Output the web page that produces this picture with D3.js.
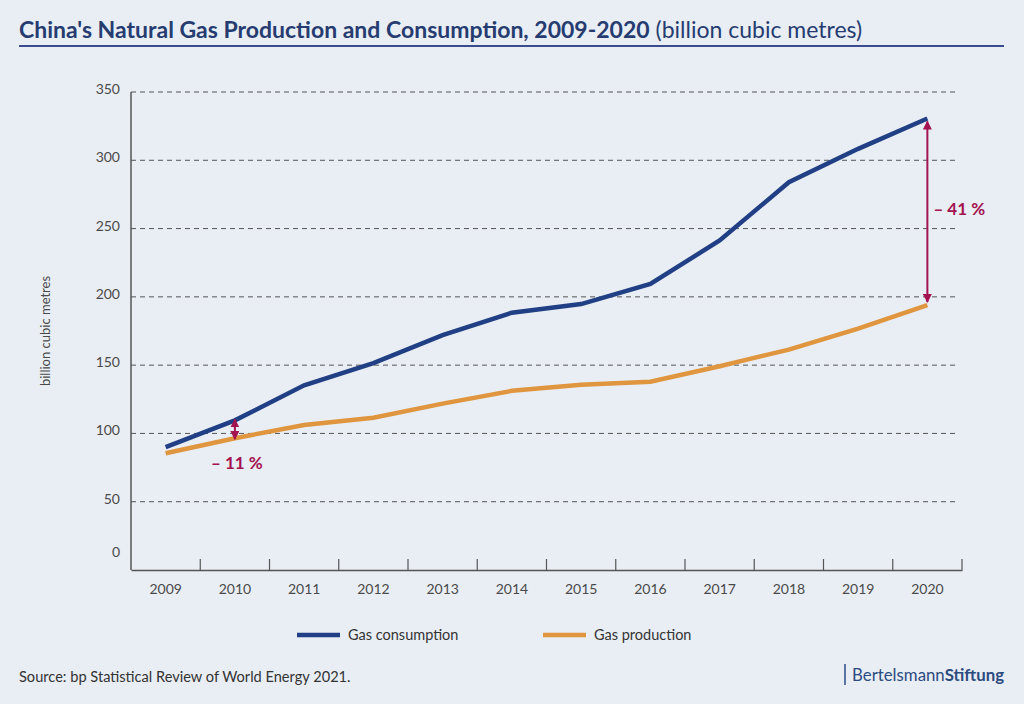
<!DOCTYPE html>
<html>
<head>
<meta charset="utf-8">
<script src="https://cdn.jsdelivr.net/npm/d3@7"></script>
<style>
  body { margin: 0; background: #e9eef5; }
  svg { display: block; font-family: Lato, "Open Sans", sans-serif; }
</style>
</head>
<body>
<svg width="1024" height="704"></svg>
<script>
var width = 1024;
var height = 704;
var margin = {left: 131, right: 62, top: 92, bottom: 134};

// Data (billion cubic metres)
var years       = [2009, 2010, 2011, 2012, 2013, 2014, 2015, 2016, 2017, 2018, 2019, 2020];
var consumption = [89.9, 109.6, 135.2, 151.5, 171.9, 188.4, 194.7, 209.4, 241.3, 283.9, 308.4, 330.6];
var production  = [85.5, 96.5, 106.2, 111.5, 121.8, 131.2, 135.7, 137.9, 149.2, 161.4, 176.7, 194.0];
var yTicks      = [0, 50, 100, 150, 200, 250, 300, 350];
var gapLabels   = [{year: 2010, text: "– 11 %", inset: -1}, {year: 2020, text: "– 41 %", inset: 3}];

var navy = "#213f84";
var orange = "#e0953f";
var crimson = "#a3134f";
var grey = "#4a4a4a";

var svg = d3.select("svg");

svg.append("defs").append("marker")
  .attr("id", "arrow")
  .attr("viewBox", "0 0 10 10")
  .attr("refX", 9).attr("refY", 5)
  .attr("markerWidth", 4.5).attr("markerHeight", 4.5)
  .attr("orient", "auto-start-reverse")
  .append("path")
  .attr("d", "M0,0 L10,5 L0,10 z")
  .attr("fill", crimson);

//Scales.
var x = d3.scaleBand().domain(years).range([margin.left, width - margin.right]);
var y = d3.scaleLinear().domain([0, 350]).range([height - margin.bottom, margin.top]);
function cx(yr) { return x(yr) + x.bandwidth() / 2; }

// Title
var title = svg.append("text").attr("x", 19).attr("y", 38)
  .attr("fill", "#263c70").style("font-size", "23px");
title.append("tspan").attr("font-weight", "bold")
  .text("China's Natural Gas Production and Consumption, 2009-2020");
title.append("tspan").text(" (billion cubic metres)");
svg.append("line")
  .attr("x1", 19).attr("x2", 1004).attr("y1", 46).attr("y2", 46)
  .attr("stroke", "#3c4a8e").attr("stroke-width", 2);

// gridlines
svg.append("g").selectAll("line")
  .data(yTicks.filter(function (d) { return d > 0; }))
  .enter().append("line")
  .attr("x1", margin.left).attr("x2", width - margin.right - 4)
  .attr("y1", function (d) { return y(d); })
  .attr("y2", function (d) { return y(d); })
  .attr("stroke", "#555").attr("stroke-width", 1)
  .style("stroke-dasharray", "5,4");

// y tick labels (0 sits a little above the axis, as in the original)
svg.append("g").selectAll("text")
  .data(yTicks).enter().append("text")
  .attr("x", 120)
  .attr("y", function (d) { return d === 0 ? y(d) - 13 : y(d) + 2; })
  .attr("text-anchor", "end")
  .attr("fill", grey).style("font-size", "14px")
  .text(function (d) { return d; });

// axes lines
svg.append("line")
  .attr("x1", margin.left).attr("x2", margin.left)
  .attr("y1", y(350)).attr("y2", y(0))
  .attr("stroke", "#555").attr("stroke-width", 1.5);
var axisBottom = d3.axisBottom(x).tickSize(0).tickPadding(14);
var xg = svg.append("g")
  .attr("transform", "translate(0," + y(0) + ")")
  .call(axisBottom);
xg.select(".domain").attr("stroke", "#555").attr("stroke-width", 1.5);
xg.selectAll("text").attr("fill", grey).style("font-size", "14px").style("font-family", "Lato, sans-serif");
xg.selectAll(".sep").data(years).enter().append("line")
  .attr("x1", function (d) { return x(d) + x.bandwidth(); })
  .attr("x2", function (d) { return x(d) + x.bandwidth(); })
  .attr("y1", 0).attr("y2", -11)
  .attr("stroke", "#555").attr("stroke-width", 1.2);

// y axis title
svg.append("text")
  .attr("transform", "rotate(-90)")
  .attr("x", -331).attr("y", 50)
  .attr("text-anchor", "middle")
  .attr("fill", grey).style("font-size", "13px")
  .text("billion cubic metres");

// lines
var line = d3.line()
  .x(function (d, i) { return cx(years[i]); })
  .y(function (d) { return y(d); });

svg.append("path").datum(production)
  .attr("d", line).attr("fill", "none")
  .attr("stroke", orange).attr("stroke-width", 4.5);
svg.append("path").datum(consumption)
  .attr("d", line).attr("fill", "none")
  .attr("stroke", navy).attr("stroke-width", 4.5);

// gap arrows
gapLabels.forEach(function (g) {
  var i = years.indexOf(g.year);
  var xx = cx(g.year);
  svg.append("line")
    .attr("x1", xx).attr("x2", xx)
    .attr("y1", y(consumption[i]) + g.inset).attr("y2", y(production[i]) - g.inset)
    .attr("stroke", crimson).attr("stroke-width", 2)
    .attr("marker-start", "url(#arrow)").attr("marker-end", "url(#arrow)");
});
svg.append("text")
  .attr("x", cx(2010) + 2).attr("y", 469)
  .attr("text-anchor", "middle")
  .attr("fill", crimson).attr("font-weight", "bold").style("font-size", "17px")
  .text(gapLabels[0].text);
svg.append("text")
  .attr("x", cx(2020) + 6).attr("y", 215)
  .attr("fill", crimson).attr("font-weight", "bold").style("font-size", "17px")
  .text(gapLabels[1].text);

// legend
var legend = [{name: "Gas consumption", color: navy, x: 297}, {name: "Gas production", color: orange, x: 543}];
var lg = svg.append("g").selectAll("g").data(legend).enter().append("g");
lg.append("line")
  .attr("x1", function (d) { return d.x; })
  .attr("x2", function (d) { return d.x + 43; })
  .attr("y1", 635).attr("y2", 635)
  .attr("stroke", function (d) { return d.color; }).attr("stroke-width", 4.5);
lg.append("text")
  .attr("x", function (d) { return d.x + 51; }).attr("y", 640)
  .attr("fill", "#333").style("font-size", "14.5px")
  .text(function (d) { return d.name; });

// source
svg.append("text")
  .attr("x", 19).attr("y", 682)
  .attr("fill", "#333").style("font-size", "14.6px")
  .text("Source: bp Statistical Review of World Energy 2021.");

// logo
svg.append("line")
  .attr("x1", 845).attr("x2", 845).attr("y1", 664).attr("y2", 685)
  .attr("stroke", "#2c4b80").attr("stroke-width", 1.5);
var logo = svg.append("text")
  .attr("x", 1004).attr("y", 681)
  .attr("text-anchor", "end")
  .attr("fill", "#2c4b80").style("font-size", "16.8px");
logo.append("tspan").text("Bertelsmann");
logo.append("tspan").attr("font-weight", "bold").text("Stiftung");
</script>
</body>
</html>
